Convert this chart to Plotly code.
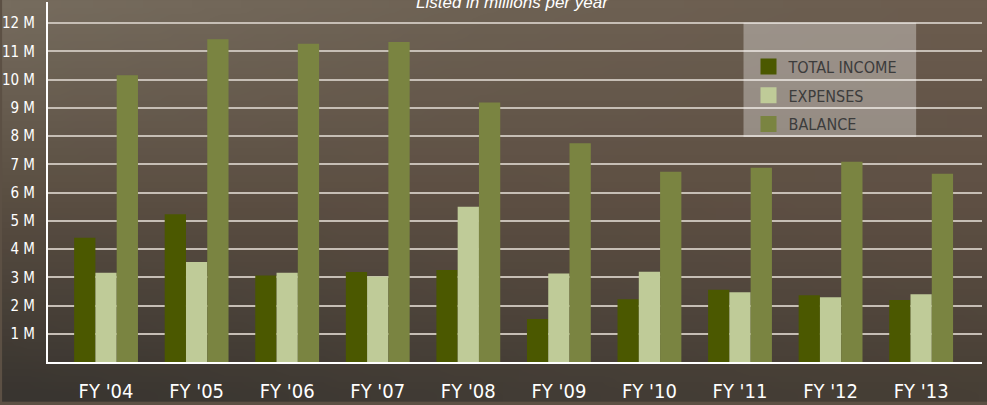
import base64
import struct
import zlib

import numpy as np
import plotly.graph_objects as go

# ---------------- data ----------------
years = ["FY '04", "FY '05", "FY '06", "FY '07", "FY '08",
         "FY '09", "FY '10", "FY '11", "FY '12", "FY '13"]
total_income = [4.4, 5.23, 3.06, 3.19, 3.26, 1.52, 2.22, 2.56, 2.36, 2.2]
expenses = [3.16, 3.54, 3.16, 3.03, 5.5, 3.13, 3.2, 2.47, 2.29, 2.4]
balance = [10.16, 11.43, 11.27, 11.33, 9.19, 7.75, 6.74, 6.88, 7.09, 6.67]
series_names = ["TOTAL INCOME", "EXPENSES", "BALANCE"]
y_tick_values = [1, 2, 3, 4, 5, 6, 7, 8, 9, 10, 11, 12]
y_tick_labels = [f"{v} M" for v in y_tick_values]
subtitle = "Listed in millions per year"

colors = ["#4b5800", "#bfcb98", "#7a8441"]

# ---------------- background gradient (PNG data uri) ----------------
W, H = 987, 405
ML, MR, MT, MB = 46, 5, 2, 40
pw, ph = W - ML - MR, H - MT - MB

ctrl = np.array([
    [[118, 108, 94], [110, 98, 84], [108, 93, 79]],
    [[90, 78, 66], [93, 79, 67], [95, 80, 68]],
    [[57, 53, 48], [66, 60, 53], [71, 63, 54]],
], dtype=float)
iw, ih = 60, 30
xs = np.linspace(0, 2, iw)
ys = np.linspace(0, 2, ih)
img = np.zeros((ih, iw, 3))
for j, yv in enumerate(ys):
    y0 = min(int(yv), 1)
    fy = yv - y0
    for i, xv in enumerate(xs):
        x0 = min(int(xv), 1)
        fx = xv - x0
        c = (ctrl[y0, x0] * (1 - fx) * (1 - fy) + ctrl[y0, x0 + 1] * fx * (1 - fy)
             + ctrl[y0 + 1, x0] * (1 - fx) * fy + ctrl[y0 + 1, x0 + 1] * fx * fy)
        img[j, i] = c
img = np.clip(img, 0, 255).astype(np.uint8)
raw = b"".join(b"\x00" + img[r].tobytes() for r in range(ih))


def chunk(tag, data):
    return (struct.pack(">I", len(data)) + tag + data
            + struct.pack(">I", zlib.crc32(tag + data) & 0xffffffff))


png = (b"\x89PNG\r\n\x1a\n"
       + chunk(b"IHDR", struct.pack(">IIBBBBB", iw, ih, 8, 2, 0, 0, 0))
       + chunk(b"IDAT", zlib.compress(raw, 9))
       + chunk(b"IEND", b""))
bg_uri = "data:image/png;base64," + base64.b64encode(png).decode()

# ---------------- figure ----------------
FONT = "Liberation Sans Narrow, DejaVu Sans Condensed, Arial Narrow, sans-serif"

fig = go.Figure()
for name, vals, col in zip(series_names, [total_income, expenses, balance], colors):
    fig.add_trace(go.Bar(x=years, y=vals, name=name, marker=dict(color=col, line=dict(width=0)),
                         showlegend=False))
for k, (name, col) in enumerate(zip(series_names, colors)):
    fig.add_trace(go.Scatter(x=[None], y=[None], mode="markers", name=name,
                             legendgroup=f"g{k}",
                             marker=dict(symbol="square", size=16, color=col, line=dict(width=0))))

fig.update_layout(
    width=W, height=H,
    margin=dict(l=ML, r=MR, t=MT, b=MB),
    paper_bgcolor="#5c5044",
    plot_bgcolor="rgba(0,0,0,0)",
    barmode="group", bargap=0.295, bargroupgap=0,
    font=dict(family=FONT, color="white"),
    images=[dict(source=bg_uri, xref="paper", yref="paper",
                 x=-ML / pw, y=1 + MT / ph, sizex=W / pw, sizey=H / ph,
                 xanchor="left", yanchor="top", sizing="stretch", layer="below")],
    shapes=[dict(type="rect", xref="paper", yref="paper",
                 x0=(743 - ML) / pw, x1=(916 - ML) / pw,
                 y0=(H - MB - 138) / ph, y1=(H - MB - 23) / ph,
                 fillcolor="rgba(255,255,255,0.33)", line=dict(width=0), layer="above")],
    legend=dict(x=(748 - ML) / pw, y=(H - MB - 50) / ph, xanchor="left", yanchor="top",
                bgcolor="rgba(0,0,0,0)", borderwidth=0,
                font=dict(family=FONT, size=16, color="#3c3c3c"),
                tracegroupgap=5, traceorder="grouped"),
    annotations=[dict(text=subtitle, xref="paper", yref="paper", x=0.497, y=1,
                      xanchor="center", yanchor="middle", yshift=0, showarrow=False,
                      font=dict(family="Liberation Sans, Arial, sans-serif", size=17,
                                color="white", style="italic"))],
)
fig.update_xaxes(type="category", range=[-0.641, 9.672], showgrid=False,
                 showline=True, linecolor="white", linewidth=2, ticks="",
                 tickfont=dict(family=FONT, size=20, color="white"),
                 ticklabelstandoff=10, zeroline=False, fixedrange=True)
fig.update_yaxes(range=[0, 12.75], tickvals=y_tick_values, ticktext=y_tick_labels,
                 showgrid=True, gridcolor="#c6beb5", gridwidth=2,
                 showline=True, linecolor="white", linewidth=2, ticks="",
                 tickfont=dict(family=FONT, size=15, color="white"),
                 ticklabelstandoff=8, zeroline=False, fixedrange=True)

fig.write_html("out.html", config={"displayModeBar": False},
               post_script="document.body.style.margin='0';document.body.style.overflow='hidden';")
